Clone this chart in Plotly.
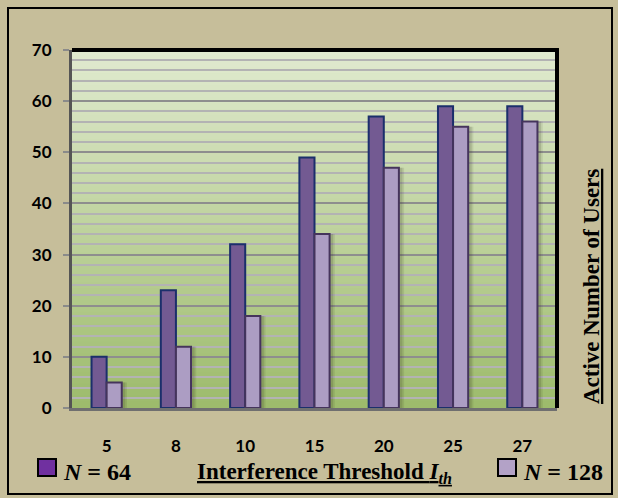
import plotly.graph_objects as go

# Data: active users vs. interference threshold
thresholds = ["5", "8", "10", "15", "20", "25", "27"]
users_n64 = [10, 23, 32, 49, 57, 59, 59]
users_n128 = [5, 12, 18, 34, 47, 55, 56]
y_ticks = [0, 10, 20, 30, 40, 50, 60, 70]

W, H = 618, 498
L, R, T, B = 72, 61, 50, 90
PW, PH = W - L - R, H - T - B


def px(x):
    return (x - L) / PW


def py(y):
    return (H - B - y) / PH


BG = "#C6BE9A"
BAR_W = 0.218

fig = go.Figure()

# soft shadow to the right of each bar pair
for off, alpha in [(0.075, 0.10), (0.05, 0.14)]:
    fig.add_trace(go.Bar(
        x=thresholds, y=users_n128, width=BAR_W, offset=off,
        marker=dict(color=f"rgba(40,40,20,{alpha})", line=dict(width=0)),
        hoverinfo="skip", showlegend=False,
    ))

fig.add_trace(go.Bar(
    x=thresholds, y=users_n64, name="N = 64", width=BAR_W, offset=-BAR_W,
    marker=dict(color="#735A92", line=dict(color="#1B2F6B", width=2)),
    showlegend=False,
))
fig.add_trace(go.Bar(
    x=thresholds, y=users_n128, name="N = 128", width=BAR_W, offset=0.0,
    marker=dict(color="#AC9DC3", line=dict(color="#45345C", width=2)),
    showlegend=False,
))

shapes = []

# vertical green gradient behind the grid
top_c = (224, 234, 207)
bot_c = (157, 187, 108)
n_bands = 60
for i in range(n_bands):
    t = i / (n_bands - 1)
    c = tuple(round(top_c[k] + (bot_c[k] - top_c[k]) * t) for k in range(3))
    y1 = 1 - i / n_bands
    y0 = 1 - (i + 1) / n_bands
    shapes.append(dict(type="rect", xref="paper", yref="paper",
                       x0=0, x1=1, y0=y0, y1=y1 + 0.002,
                       fillcolor=f"rgb{c}", line=dict(width=0), layer="below"))

# frame: black top and right edges
shapes.append(dict(type="line", xref="paper", yref="paper", x0=0, x1=1.004, y0=1, y1=1,
                   line=dict(color="black", width=4), layer="above"))
shapes.append(dict(type="line", xref="paper", yref="paper", x0=1, x1=1, y0=0, y1=1.004,
                   line=dict(color="black", width=4), layer="above"))

# outer border of the figure
shapes.append(dict(type="rect", xref="paper", yref="paper",
                   x0=px(8), x1=px(612), y0=py(494), y1=py(8),
                   line=dict(color="black", width=2), fillcolor="rgba(0,0,0,0)",
                   layer="below"))

# legend swatches
shapes.append(dict(type="rect", xref="paper", yref="paper",
                   x0=px(38), x1=px(56), y0=py(476), y1=py(459),
                   fillcolor="#7030A0", line=dict(color="black", width=2)))
shapes.append(dict(type="rect", xref="paper", yref="paper",
                   x0=px(498), x1=px(516), y0=py(476), y1=py(459),
                   fillcolor="#B3A2C7", line=dict(color="black", width=2)))

serif = "Liberation Serif, Times New Roman, serif"
annotations = [
    dict(text="<b><i>N</i> = 64</b>", xref="paper", yref="paper",
         x=px(61), y=py(472), xanchor="left", yanchor="middle", showarrow=False,
         font=dict(family=serif, size=24, color="black")),
    dict(text="<b><i>N</i> = 128</b>", xref="paper", yref="paper",
         x=px(521), y=py(472), xanchor="left", yanchor="middle", showarrow=False,
         font=dict(family=serif, size=24, color="black")),
    dict(text="<b><u>Interference Threshold <i>I<sub>th</sub></i></u></b>",
         xref="paper", yref="paper", x=px(324), y=py(473),
         xanchor="center", yanchor="middle", showarrow=False,
         font=dict(family=serif, size=23, color="black")),
    dict(text="<b><u>Active Number of Users</u></b>", textangle=-90,
         xref="paper", yref="paper", x=px(591), y=py(287),
         xanchor="center", yanchor="middle", showarrow=False,
         font=dict(family=serif, size=23, color="black")),
]

tick_font = dict(family="Lato, Open Sans, sans-serif", size=17, color="black",
                 weight="bold")

fig.update_layout(
    width=W, height=H,
    margin=dict(l=L, r=R, t=T, b=B),
    paper_bgcolor=BG,
    plot_bgcolor="#C8D9AA",
    barmode="overlay",
    showlegend=False,
    shapes=shapes,
    annotations=annotations,
    xaxis=dict(
        type="category", categoryorder="array", categoryarray=thresholds,
        range=[-0.5, len(thresholds) - 0.5],
        showgrid=False, zeroline=False,
        showline=True, linecolor="#6F6F6F", linewidth=3,
        ticks="", tickfont=tick_font, ticklabelstandoff=21,
    ),
    yaxis=dict(
        range=[0, 70], tickvals=y_ticks,
        showgrid=True, gridcolor="#8E8E8E", gridwidth=2,
        minor=dict(dtick=2, showgrid=True, gridcolor="#B3B3B3", gridwidth=2),
        zeroline=False,
        showline=True, linecolor="#555555", linewidth=3,
        ticks="outside", ticklen=6, tickcolor="#8A8A8A", tickwidth=2,
        tickfont=tick_font, ticklabelstandoff=8,
    ),
)

fig.write_html("out.html")
